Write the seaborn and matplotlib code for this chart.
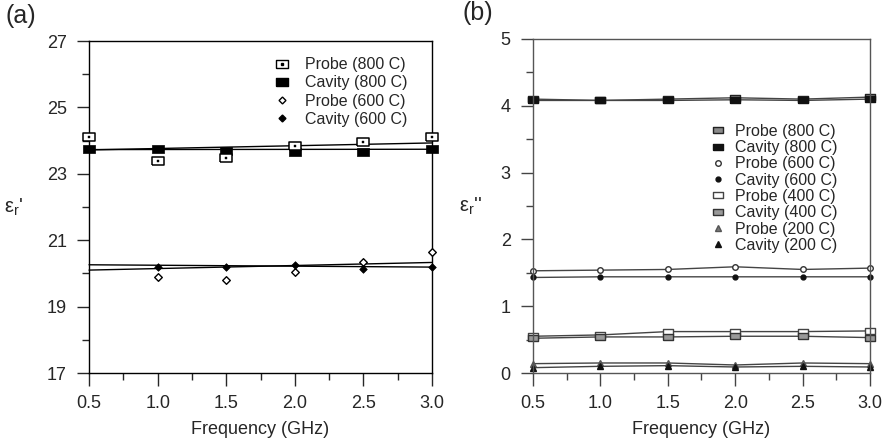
import numpy as np
import pandas as pd
import matplotlib
matplotlib.use("Agg")
import matplotlib.pyplot as plt
import seaborn as sns
from matplotlib.lines import Line2D
from matplotlib.legend_handler import HandlerTuple
from matplotlib.ticker import MultipleLocator

# ---------------- data ----------------
freq = [0.5, 1.0, 1.5, 2.0, 2.5, 3.0]
nan = np.nan

# panel (a): real permittivity
a_probe800 = [24.11, 23.39, 23.48, 23.84, 23.96, 24.10]
a_cavity800 = [23.75, 23.75, 23.68, 23.65, 23.65, 23.75]
a_probe600 = [nan, 19.89, 19.80, 20.04, 20.34, 20.64]
a_cavity600 = [nan, 20.19, 20.19, 20.25, 20.13, 20.19]

trend_x = [0.5, 3.0]
a_trend_probe800 = [23.72, 23.93]
a_trend_cavity800 = [23.73, 23.74]
a_trend_probe600 = [20.10, 20.33]
a_trend_cavity600 = [20.26, 20.19]

# panel (b): imaginary permittivity
b_probe800 = [4.10, 4.08, 4.10, 4.12, 4.10, 4.13]
b_cavity800 = [4.08, 4.08, 4.08, 4.09, 4.08, 4.10]
b_probe600 = [1.53, 1.54, 1.55, 1.59, 1.55, 1.57]
b_cavity600 = [1.43, 1.44, 1.44, 1.44, 1.44, 1.44]
b_probe400 = [0.55, 0.57, 0.62, 0.62, 0.62, 0.63]
b_cavity400 = [0.52, 0.54, 0.54, 0.55, 0.55, 0.53]
b_probe200 = [0.14, 0.15, 0.15, 0.12, 0.15, 0.14]
b_cavity200 = [0.08, 0.10, 0.11, 0.09, 0.10, 0.09]

a_labels = ["Probe (800 C)", "Cavity (800 C)", "Probe (600 C)", "Cavity (600 C)"]
b_labels = ["Probe (800 C)", "Cavity (800 C)", "Probe (600 C)", "Cavity (600 C)",
            "Probe (400 C)", "Cavity (400 C)", "Probe (200 C)", "Cavity (200 C)"]
xticks = [0.5, 1.0, 1.5, 2.0, 2.5, 3.0]
a_yticks = [17, 19, 21, 23, 25, 27]
b_yticks = [0, 1, 2, 3, 4, 5]

# ---------------- style ----------------
sns.set_style("ticks")
plt.rcParams['font.family'] = ['Liberation Sans', 'DejaVu Sans']
plt.rcParams['mathtext.default'] = 'regular'

RECT = [(-1.5, -1), (1.5, -1), (1.5, 1), (-1.5, 1), (-1.5, -1)]
TICK_FS = 13
LEG_FS = 11.5

fig = plt.figure(figsize=(8.93, 4.42), dpi=100)
axa = fig.add_axes([0.0997, 0.1561, 0.3841, 0.7511])
axb = fig.add_axes([0.5969, 0.1561, 0.3773, 0.7557])

# ---------------- panel (a) ----------------
for tr in [a_trend_probe800, a_trend_cavity800, a_trend_probe600, a_trend_cavity600]:
    sns.lineplot(x=trend_x, y=tr, ax=axa, color='black', lw=1.0, clip_on=False)

sns.scatterplot(x=freq, y=a_cavity800, ax=axa, marker=RECT, s=80, color='black',
                edgecolor='black', linewidth=0.5, clip_on=False, zorder=5)
sns.scatterplot(x=freq, y=a_probe800, ax=axa, marker=RECT, s=68, facecolor='white',
                edgecolor='black', linewidth=1.1, clip_on=False, zorder=6)
sns.scatterplot(x=freq, y=a_probe800, ax=axa, marker='s', s=3, color='black',
                edgecolor='black', linewidth=0.3, clip_on=False, zorder=7)
sns.scatterplot(x=freq, y=a_probe600, ax=axa, marker='D', s=15, facecolor='white',
                edgecolor='black', linewidth=1.0, clip_on=False, zorder=6)
sns.scatterplot(x=freq, y=a_cavity600, ax=axa, marker='D', s=15, color='black',
                edgecolor='black', linewidth=0.5, clip_on=False, zorder=6)

axa.set_xlim(0.5, 3.0)
axa.set_ylim(17, 27)
axa.set_xticks(xticks)
axa.set_xticklabels([f"{v:.1f}" for v in xticks])
axa.set_yticks(a_yticks)
axa.xaxis.set_minor_locator(MultipleLocator(0.25))
axa.yaxis.set_minor_locator(MultipleLocator(1))
axa.tick_params(which='major', direction='out', length=9, width=1.0, labelsize=TICK_FS, pad=7)
axa.tick_params(which='minor', direction='out', length=5, width=1.0)
for s in axa.spines.values():
    s.set_visible(True)
    s.set_linewidth(1.0)
    s.set_color('black')
axa.set_xlabel("Frequency (GHz)", fontsize=TICK_FS, labelpad=6)
axa.set_ylabel("ε$_{r}$'", fontsize=14.5, rotation=0, labelpad=24, va='center')

ha = [
    (Line2D([], [], ls='', marker=RECT, ms=8, mfc='white', mec='black', mew=1.0),
     Line2D([], [], ls='', marker='s', ms=1.5, mfc='black', mec='black')),
    Line2D([], [], ls='', marker=RECT, ms=9, mfc='black', mec='black'),
    Line2D([], [], ls='', marker='D', ms=3.5, mfc='white', mec='black', mew=1.0),
    Line2D([], [], ls='', marker='D', ms=3.5, mfc='black', mec='black'),
]
axa.legend(ha, a_labels, loc='upper right', bbox_to_anchor=(0.955, 0.98), frameon=False,
           fontsize=LEG_FS, labelspacing=0.2, handlelength=1.2, handletextpad=0.8,
           borderaxespad=0.2, handler_map={tuple: HandlerTuple(ndivide=1)})

# ---------------- panel (b) ----------------
gray = '#444444'
series_b = [
    (b_probe800, RECT, 6.5, '#8a8a8a', '#222222'),
    (b_cavity800, RECT, 7, '#111111', '#111111'),
    (b_probe600, 'o', 4, 'white', '#333333'),
    (b_cavity600, 'o', 3.5, '#111111', '#111111'),
    (b_probe400, RECT, 7, 'white', '#444444'),
    (b_cavity400, RECT, 7, '#999999', '#333333'),
    (b_probe200, '^', 4, '#777777', '#555555'),
    (b_cavity200, '^', 4, '#111111', '#111111'),
]
for vals, mk, ms, fc, ec in series_b:
    sns.lineplot(x=freq, y=vals, ax=axb, color=gray, lw=1.0, marker=mk, markersize=ms,
                 markerfacecolor=fc, markeredgecolor=ec, markeredgewidth=1.0, clip_on=False)

axb.set_xlim(0.5, 3.0)
axb.set_ylim(0, 5)
axb.set_xticks(xticks)
axb.set_xticklabels([f"{v:.1f}" for v in xticks])
axb.set_yticks(b_yticks)
axb.xaxis.set_minor_locator(MultipleLocator(0.25))
axb.yaxis.set_minor_locator(MultipleLocator(0.5))
axb.tick_params(which='major', direction='out', length=9, width=1.0, labelsize=TICK_FS, pad=7,
                color=gray)
axb.tick_params(which='minor', direction='out', length=5, width=1.0, color=gray)
for s in axb.spines.values():
    s.set_visible(True)
    s.set_linewidth(1.0)
    s.set_color('#555555')
axb.set_xlabel("Frequency (GHz)", fontsize=TICK_FS, labelpad=6)
axb.set_ylabel("ε$_{r}$''", fontsize=14.5, rotation=0, labelpad=22, va='center')

hb = [Line2D([], [], ls='', marker=mk, ms=ms, mfc=fc, mec=ec, mew=1.0)
      for _, mk, ms, fc, ec in series_b]
axb.legend(hb, b_labels, loc='upper left', bbox_to_anchor=(0.505, 0.765), frameon=False,
           fontsize=LEG_FS, labelspacing=0.08, handlelength=1.0, handletextpad=0.6,
           borderaxespad=0.0)

fig.text(0.006, 0.99, "(a)", fontsize=18, va='top', ha='left')
fig.text(0.518, 0.998, "(b)", fontsize=18, va='top', ha='left')

fig.savefig("out.png", dpi=100)
